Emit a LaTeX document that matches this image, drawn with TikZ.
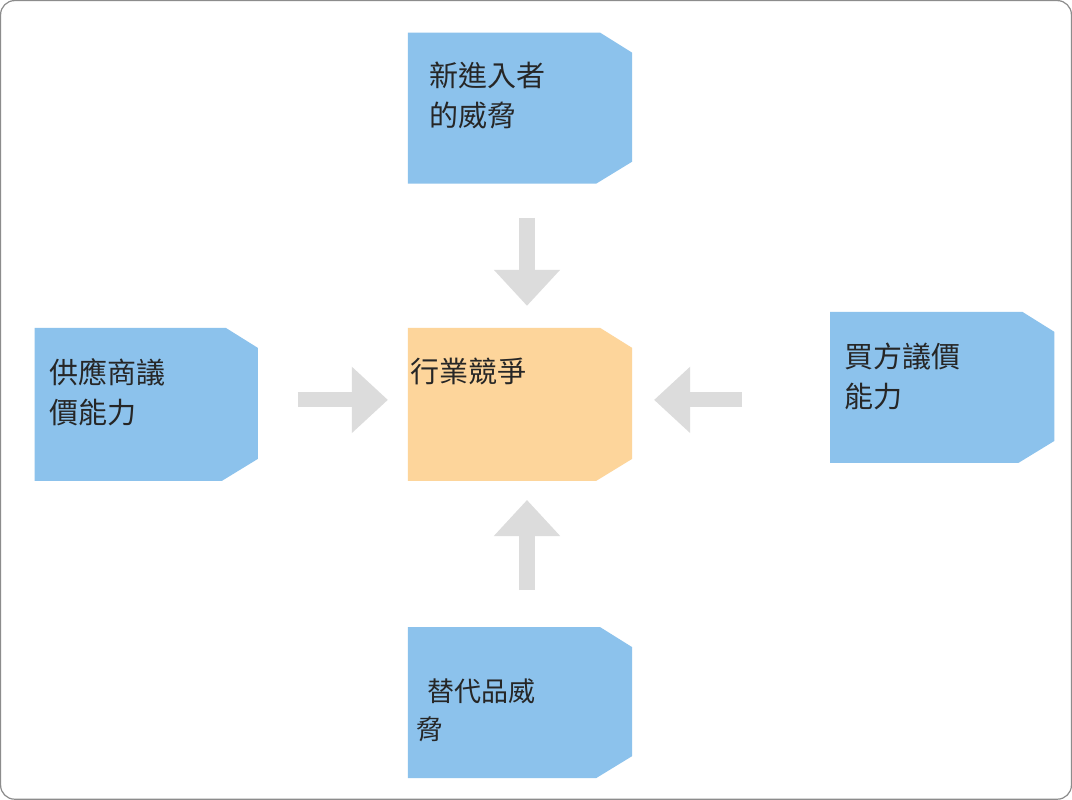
\documentclass[tikz,border=0pt]{standalone}
\usepackage{fontspec}
\newfontfamily\cjk{Noto Sans CJK TC}
\usetikzlibrary{arrows.meta}
\definecolor{boxblue}{HTML}{8CC2EC}
\definecolor{boxorange}{HTML}{FDD59B}
\definecolor{arrgray}{HTML}{DCDCDC}
\begin{document}
\begin{tikzpicture}[x=1pt,y=-1pt,
  lbl/.style={anchor=north west,align=left,font=\cjk\fontsize{29}{40}\selectfont,text=black!85,inner sep=0pt},
  arr/.style={draw=arrgray,line width=15pt,-{Triangle[length=36pt,width=64pt]}}]
\draw[black!45,line width=1.2pt,rounded corners=14pt,fill=white] (1,1) rectangle (1071,799);
\newcommand\cbox[5]{% x y w h color
  \fill[#5] (#1,#2) -- ({#1+#3-32},#2) -- ({#1+#3},{#2+20}) -- ({#1+#3},{#2+#4-22}) -- ({#1+#3-36},{#2+#4}) -- (#1,{#2+#4}) -- cycle;}
\cbox{408}{33}{224}{151}{boxblue}
\cbox{35}{328}{223}{153}{boxblue}
\cbox{408}{328}{224}{153}{boxorange}
\cbox{830}{312}{224}{151}{boxblue}
\cbox{408}{627}{224}{151}{boxblue}
\node[lbl] (n) at (429,62) {新進入者\\的威脅};
\node[lbl] (s) at (50,358) {供應商議\\價能力};
\node[lbl] (c) at (410,358) {行業競爭};
\node[lbl] (b) at (844,343) {買方議價\\能力};
\node[lbl,font=\cjk\fontsize{27}{38}\selectfont] (t) at (427,678) {替代品威};
\node[lbl,font=\cjk\fontsize{27}{38}\selectfont] (t2) at (416,716) {脅};
\coordinate (a1) at (527,218); \coordinate (a2) at (527,306);
\coordinate (b1) at (298,400); \coordinate (b2) at (388,400);
\coordinate (c1) at (742,400); \coordinate (c2) at (654,400);
\coordinate (d1) at (527,590); \coordinate (d2) at (527,500);
\draw[arr] (a1) -- (a2);
\draw[arr] (b1) -- (b2);
\draw[arr] (c1) -- (c2);
\draw[arr] (d1) -- (d2);
\end{tikzpicture}
\end{document}
